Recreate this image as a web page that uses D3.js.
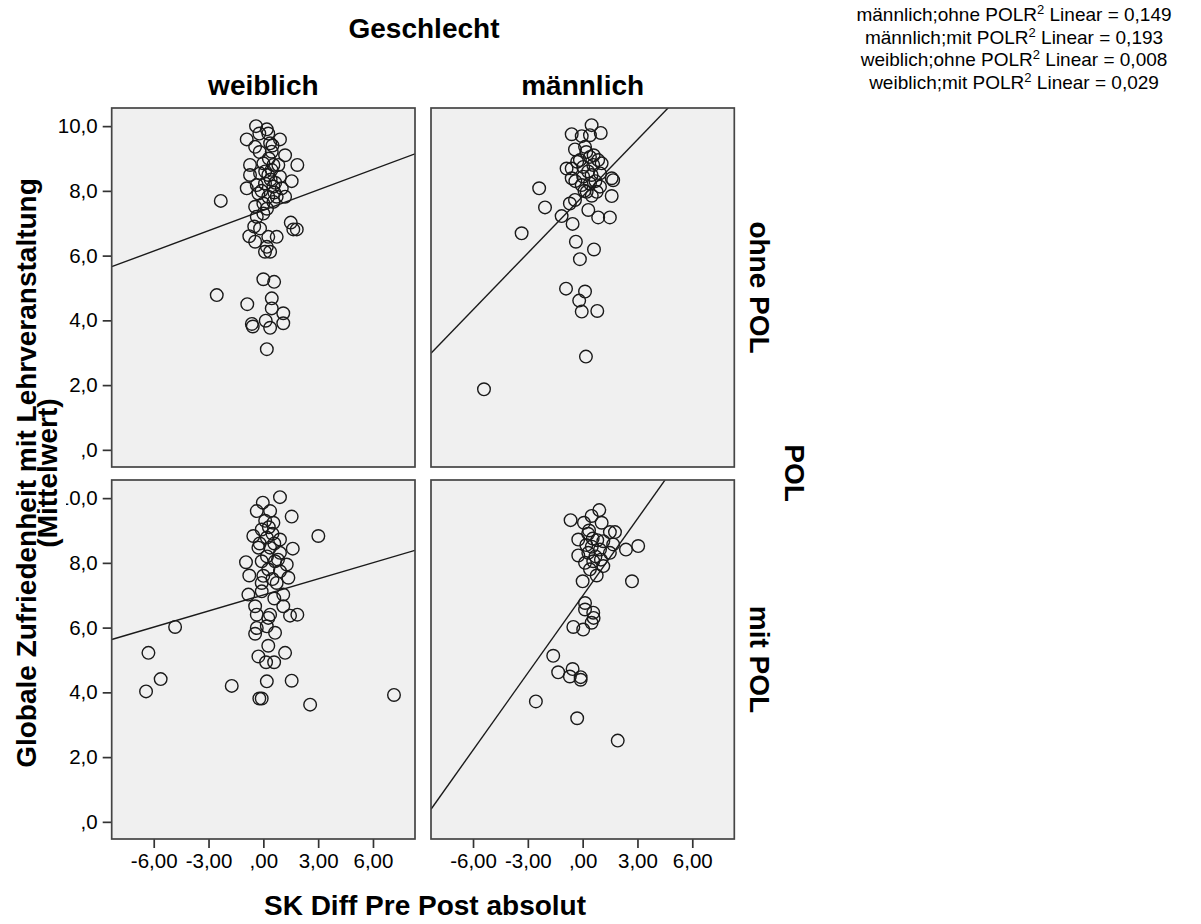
<!DOCTYPE html>
<html><head><meta charset="utf-8">
<script src="https://cdn.jsdelivr.net/npm/d3@7"></script>
<style>
body{margin:0;background:#fff}
text{font-family:"Liberation Sans",Arial,sans-serif;fill:#000}
</style>
</head><body>
<svg id="c" width="1201" height="924"></svg>
<script>
// ---------- data ----------
const columns = ["weiblich", "männlich"];
const rows = ["ohne POL", "mit POL"];
const xTicks = [-6, -3, 0, 3, 6];
const xTickLabels = ["-6,00", "-3,00", ",00", "3,00", "6,00"];
const yTicks = [0, 2, 4, 6, 8, 10];
const yTickLabels = [",0", "2,0", "4,0", "6,0", "8,0", "10,0"];

const weiblichOhne = [
  [-0.40,10.0],[0.19,9.90],[-0.22,9.77],[0.27,9.77],[-0.91,9.59],[0.91,9.59],[-0.45,9.36],[0.37,9.47],
  [0.46,9.21],[1.19,9.10],[-0.73,8.80],[0.00,8.85],[0.55,8.80],[0.82,8.80],[1.86,8.80],[-0.73,8.49],
  [-0.18,8.54],[0.27,8.49],[0.91,8.44],[1.55,8.30],[-0.91,8.08],[-0.36,8.18],[0.09,8.23],[0.55,8.13],
  [1.01,8.08],[-0.27,7.92],[0.27,7.82],[0.73,7.82],[1.19,7.82],[-2.33,7.69],[-0.45,7.51],[0.00,7.61],
  [-0.36,7.20],[0.55,7.66],[1.50,7.02],[1.64,6.81],[1.83,6.81],[-0.18,6.84],[-0.77,6.60],[-0.45,6.43],
  [0.27,6.58],[0.73,6.58],[0.19,6.27],[0.37,6.12],[0.09,6.12],[0.00,5.27],[0.59,5.19],[-2.55,4.78],
  [0.46,4.68],[-0.88,4.50],[0.46,4.37],[1.09,4.22],[-0.63,3.89],[-0.58,3.81],[0.13,3.99],[0.37,3.77],
  [1.09,3.91],[0.19,3.11],
  [0.10,8.60],[0.40,8.35],[-0.10,8.00],[0.60,7.95],[0.20,7.45],[0.45,8.65],[-0.20,9.20],[0.30,9.00],
  [0.00,7.30],[0.50,9.40],[0.65,8.25],[-0.50,6.90]
];
const maennlichOhne = [
  [0.49,10.03],[0.99,9.79],[-0.60,9.75],[-0.05,9.69],[0.40,9.72],[-0.42,9.28],[0.13,9.36],[-0.15,8.95],
  [0.40,9.05],[0.85,8.95],[-0.60,8.69],[0.03,8.74],[0.58,8.80],[1.04,8.85],[-0.88,8.69],[-0.60,8.39],
  [0.03,8.44],[0.49,8.49],[0.95,8.54],[1.59,8.39],[1.67,8.33],[-0.05,8.18],[0.40,8.23],[0.95,8.13],
  [0.22,7.97],[0.77,7.97],[1.59,7.84],[-2.38,8.08],[-2.06,7.49],[-0.70,7.61],[-0.42,7.72],[-1.15,7.22],
  [0.31,7.41],[0.85,7.18],[1.49,7.18],[-0.55,6.98],[-3.34,6.69],[-0.37,6.43],[0.62,6.19],[-0.15,5.89],
  [-0.91,4.98],[0.13,4.89],[-0.19,4.61],[-0.05,4.27],[0.80,4.29],[0.18,2.88],[-5.40,1.87],
  [0.20,9.20],[0.60,9.10],[0.30,8.60],[-0.30,8.90],[0.70,8.30],[0.10,8.00],[0.50,7.85],[-0.40,8.30]
];
const weiblichMit = [
  [0.91,10.03],[-0.03,9.86],[-0.36,9.60],[0.37,9.60],[1.55,9.43],[0.55,9.24],[-0.09,9.03],[3.01,8.83],
  [-0.55,8.83],[0.19,8.78],[0.91,8.72],[-0.27,8.47],[0.37,8.47],[1.61,8.44],[0.91,8.31],[-0.95,8.02],
  [-0.09,8.05],[0.64,8.05],[1.28,7.95],[-0.77,7.61],[0.27,7.80],[0.91,7.74],[1.37,7.54],[-0.09,7.38],
  [0.73,7.38],[-0.82,7.02],[-0.09,7.12],[1.09,7.02],[-0.45,6.66],[-0.36,6.40],[0.37,6.40],[0.27,6.30],
  [1.09,6.66],[1.46,6.37],[1.86,6.40],[-4.83,6.02],[-0.36,5.99],[0.19,6.04],[0.64,5.84],[-0.45,5.81],
  [0.27,5.44],[-6.29,5.22],[-0.27,5.11],[0.15,4.93],[0.59,4.93],[1.19,5.22],[-5.62,4.41],[-6.42,4.03],
  [-1.73,4.20],[0.19,4.34],[1.55,4.36],[-0.22,3.81],[-0.09,3.81],[2.56,3.62],[7.15,3.92],
  [0.10,9.30],[0.50,8.90],[0.20,8.20],[0.60,8.60],[0.00,7.60],[0.50,7.50],[0.80,8.10],[-0.20,8.60],
  [0.30,9.10],[0.60,6.90]
];
const maennlichMit = [
  [0.91,9.63],[-0.66,9.32],[0.07,9.24],[0.49,9.45],[1.04,9.24],[1.49,8.95],[1.77,8.95],[-0.24,8.72],
  [0.55,8.75],[1.13,8.67],[1.67,8.57],[2.37,8.41],[3.04,8.52],[-0.24,8.23],[0.31,8.31],[0.95,8.41],
  [1.49,8.31],[0.13,8.00],[0.58,8.05],[1.13,7.90],[0.40,7.80],[0.77,7.61],[0.00,7.43],[2.70,7.43],
  [0.13,6.76],[0.13,6.56],[0.58,6.46],[0.49,6.15],[-0.51,6.02],[0.03,5.94],[-1.61,5.13],[-1.34,4.62],
  [-0.55,4.72],[-0.70,4.49],[-0.11,4.47],[-0.11,4.39],[-2.56,3.72],[-0.30,3.20],[1.92,2.51],
  [0.30,8.90],[0.80,8.70],[0.50,8.50],[0.20,8.55],[1.00,8.10],[0.70,8.20],[0.35,9.00],[0.60,6.30]
];
// panel order: [row][col]
const panelData = [[weiblichOhne, maennlichOhne], [weiblichMit, maennlichMit]];
// linear fit lines (slope, intercept)
const fitSlopes = [[0.210, 0.584], [0.166, 0.794]];
const fitIntercepts = [[7.40, 7.83], [7.01, 6.98]];

const legendLabels = ["männlich;ohne POL", "männlich;mit POL", "weiblich;ohne POL", "weiblich;mit POL"];
const legendR2 = ["0,149", "0,193", "0,008", "0,029"];

// ---------- layout ----------
const svg = d3.select("#c");
const colX = [111.7, 431];
const panelW = 303.3;
const rowY = [108, 480];
const panelH = 359;
const xDomain = [-8.3, 8.3];
const yDomain = [-0.53, 10.56];
const FONT = "'Liberation Sans',Arial,sans-serif";

const defs = svg.append("defs");
const axisLayer = svg.append("g");

rows.forEach((rName, ri) => {
  columns.forEach((cName, ci) => {
    const x = d3.scaleLinear().domain(xDomain).range([colX[ci], colX[ci] + panelW]);
    const y = d3.scaleLinear().domain(yDomain).range([rowY[ri] + panelH, rowY[ri]]);
    const id = `clip${ri}${ci}`;
    defs.append("clipPath").attr("id", id).append("rect")
      .attr("x", colX[ci]).attr("y", rowY[ri]).attr("width", panelW).attr("height", panelH);
    const g = svg.append("g");
    g.append("rect").attr("x", colX[ci]).attr("y", rowY[ri]).attr("width", panelW).attr("height", panelH)
      .attr("fill", "#f0f0f0");
    const inner = g.append("g").attr("clip-path", `url(#${id})`);
    inner.selectAll("circle").data(panelData[ri][ci]).join("circle")
      .attr("cx", d => x(d[0])).attr("cy", d => y(d[1])).attr("r", 6.3)
      .attr("fill", "none").attr("stroke", "#1a1a1a").attr("stroke-width", 1.4);
    const s = fitSlopes[ri][ci], b = fitIntercepts[ri][ci];
    inner.append("line")
      .attr("x1", x(xDomain[0])).attr("y1", y(b + s * xDomain[0]))
      .attr("x2", x(xDomain[1])).attr("y2", y(b + s * xDomain[1]))
      .attr("stroke", "#1a1a1a").attr("stroke-width", 1.4);
    g.append("rect").attr("x", colX[ci]).attr("y", rowY[ri]).attr("width", panelW).attr("height", panelH)
      .attr("fill", "none").attr("stroke", "#454545").attr("stroke-width", 1.7);

    if (ci === 0) {
      const ay = axisLayer.append("g").attr("transform", `translate(${colX[ci]},0)`)
        .call(d3.axisLeft(y).tickValues(yTicks).tickSize(9).tickPadding(5)
          .tickFormat((d, i) => yTickLabels[i]));
      ay.select(".domain").remove();
      ay.selectAll("line").attr("stroke", "#333").attr("stroke-width", 1.7);
      ay.selectAll("text").attr("font-size", 20.5).attr("font-family", FONT).attr("fill", "#111");
    }
    if (ri === 1) {
      const ax = axisLayer.append("g").attr("transform", `translate(0,${rowY[ri] + panelH})`)
        .call(d3.axisBottom(x).tickValues(xTicks).tickSize(9).tickPadding(5)
          .tickFormat((d, i) => xTickLabels[i]));
      ax.select(".domain").remove();
      ax.selectAll("line").attr("stroke", "#333").attr("stroke-width", 1.7);
      ax.selectAll("text").attr("font-size", 20.5).attr("font-family", FONT).attr("fill", "#111");
    }
  });
});

// ---------- titles ----------
function txt(x, y, s, size, opts = {}) {
  const t = svg.append("text").attr("x", x).attr("y", y).text(s)
    .attr("font-size", size).attr("font-weight", opts.bold ? "bold" : "normal")
    .attr("text-anchor", "middle");
  if (opts.rot) t.attr("transform", `rotate(${opts.rot},${x},${y})`);
  if (opts.dy) t.attr("dy", opts.dy);
  return t;
}
const TS = 28;
txt(424, 38, "Geschlecht", TS, { bold: true });
columns.forEach((c, i) => txt(colX[i] + panelW / 2, 95, c, TS, { bold: true }));
rows.forEach((r, i) => txt(760, rowY[i] + panelH / 2, r, TS, { bold: true, rot: 90, dy: "0.35em" }));
txt(795, 473, "POL", TS, { bold: true, rot: 90, dy: "0.35em" });
txt(425, 915, "SK Diff Pre Post absolut", TS, { bold: true });

// y title (two lines); the second line sits on a white box as in the original
txt(26, 473, "Globale Zufriedenheit mit Lehrveranstaltung", TS, { bold: true, rot: -90, dy: "0.35em" });
svg.append("rect").attr("x", 42).attr("y", 400).attr("width", 24).attr("height", 146).attr("fill", "#fff");
txt(47, 473, "(Mittelwert)", TS, { bold: true, rot: -90, dy: "0.35em" });

// ---------- legend ----------
legendLabels.forEach((lab, i) => {
  const t = svg.append("text").attr("x", 1014).attr("y", 21 + i * 22.6)
    .attr("text-anchor", "middle").attr("font-size", 19).attr("fill", "#111");
  t.append("tspan").text(lab + "R");
  t.append("tspan").text("2").attr("font-size", 13).attr("dy", -7);
  t.append("tspan").text(" Linear = " + legendR2[i]).attr("dy", 7);
});
</script>
</body></html>
